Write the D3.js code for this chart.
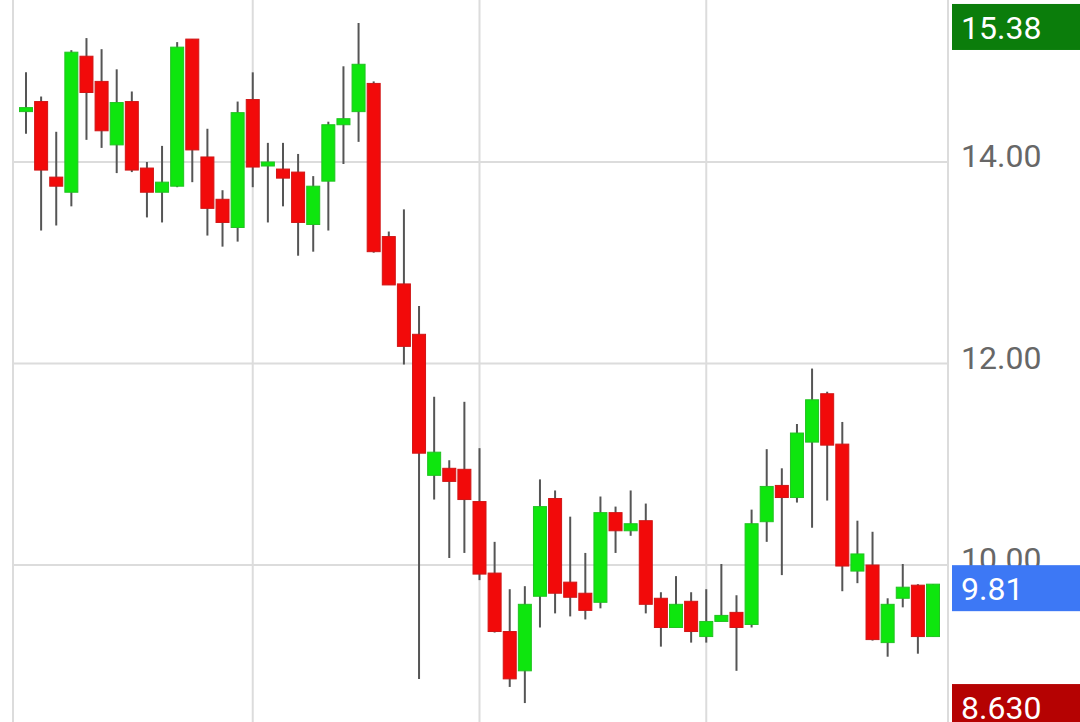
<!DOCTYPE html>
<html><head><meta charset="utf-8">
<script src="https://cdn.jsdelivr.net/npm/d3@7"></script>
<style>html,body{margin:0;padding:0;background:#fff;overflow:hidden}svg{display:block}</style>
</head><body>
<svg id="chart" width="1080" height="722"></svg>
<script>
const opens  = [14.52,14.60,13.85,13.70,15.05,14.80,14.17,14.60,13.94,13.70,13.76,15.22,14.05,13.63,13.35,14.62,13.98,13.93,13.90,13.38,13.81,14.37,14.50,14.78,13.26,12.79,12.29,10.89,10.96,10.95,10.63,9.92,9.34,8.95,9.69,10.66,9.83,9.72,9.63,10.52,10.34,10.44,9.67,9.38,9.64,9.29,9.44,9.53,9.41,10.43,10.79,10.67,11.22,11.70,11.20,9.94,10.00,9.23,9.67,9.80,9.29];
const highs  = [14.89,14.65,14.30,15.11,15.23,15.12,14.92,14.70,14.00,14.16,15.19,15.22,14.33,13.72,14.60,14.89,14.19,14.19,14.08,13.86,14.40,14.95,15.38,14.80,13.31,13.53,12.57,11.67,11.04,11.62,11.16,10.23,9.76,9.79,10.85,10.74,10.48,10.12,10.68,10.58,10.74,10.61,9.73,9.89,9.73,9.76,10.01,9.70,10.55,11.15,10.96,11.40,11.95,11.72,11.42,10.44,10.33,9.67,10.01,9.81,9.81];
const lows   = [14.28,13.32,13.37,13.56,14.22,14.14,13.89,13.90,13.45,13.40,13.75,13.80,13.27,13.16,13.21,13.75,13.40,13.56,13.07,13.11,13.32,13.98,14.20,13.10,12.78,11.99,8.87,10.65,10.07,10.12,9.85,9.33,8.79,8.63,9.38,9.52,9.49,9.46,9.57,10.12,10.29,9.52,9.19,9.38,9.23,9.23,9.44,8.95,9.38,10.23,9.90,10.62,10.37,10.64,9.74,9.82,9.25,9.09,9.58,9.12,9.29];
const closes = [14.54,13.92,13.76,15.09,14.69,14.31,14.59,13.92,13.70,13.80,15.14,14.12,13.54,13.40,14.49,13.95,14.00,13.84,13.40,13.76,14.37,14.43,14.97,13.11,12.78,12.17,11.11,11.12,10.83,10.65,9.91,9.34,8.87,9.61,10.58,9.72,9.68,9.55,10.52,10.34,10.41,9.61,9.38,9.61,9.34,9.44,9.50,9.38,10.41,10.78,10.67,11.31,11.64,11.19,9.99,10.11,9.26,9.61,9.78,9.29,9.81];
const yTicks = [10, 12, 14];
const xGridIdx = [15, 30, 45];
const markerValues = [15.38, 9.81, 8.63];
const markerLabels = ["15.38", "9.81", "8.630"];
const markerColors = ["#0b7d0b", "#3d78f5", "#b50202"];

const W = 1080, H = 722;
const plotLeft = 13, plotRight = 948;
const svg = d3.select("#chart");
const x = d3.scaleLinear().domain([0, opens.length - 1]).range([26, 933]);
const y = d3.scaleLinear().domain([8.442, 15.608]).range([H, 0]);
const font = "Roboto, 'Noto Sans', sans-serif";

const grid = svg.append("g");
grid.selectAll("line.h").data(yTicks).enter().append("line")
  .attr("x1", plotLeft).attr("x2", plotRight)
  .attr("y1", d => y(d)).attr("y2", d => y(d))
  .attr("stroke", "#dcdcdc").attr("stroke-width", 2);
grid.selectAll("line.v").data(xGridIdx).enter().append("line")
  .attr("x1", d => x(d)).attr("x2", d => x(d))
  .attr("y1", 0).attr("y2", H)
  .attr("stroke", "#dcdcdc").attr("stroke-width", 2);
grid.append("line").attr("x1", plotLeft).attr("x2", plotLeft).attr("y1", 0).attr("y2", H)
  .attr("stroke", "#dcdcdc").attr("stroke-width", 2);
grid.append("line").attr("x1", plotRight).attr("x2", plotRight).attr("y1", 0).attr("y2", H)
  .attr("stroke", "#dcdcdc").attr("stroke-width", 2);

const data = opens.map((o, i) => ({i, o, h: highs[i], l: lows[i], c: closes[i]}));
const bw = 13;
const cg = svg.append("g");
cg.selectAll("line.wick").data(data).enter().append("line")
  .attr("x1", d => x(d.i)).attr("x2", d => x(d.i))
  .attr("y1", d => y(d.h)).attr("y2", d => y(d.l))
  .attr("stroke", "#555").attr("stroke-width", 2);
cg.selectAll("rect.body").data(data).enter().append("rect")
  .attr("x", d => x(d.i) - bw / 2)
  .attr("width", bw)
  .attr("y", d => y(Math.max(d.o, d.c)))
  .attr("height", d => Math.max(4, Math.abs(y(d.o) - y(d.c))))
  .attr("fill", d => d.c >= d.o ? "#0ee60e" : "#f20a0a")
  .attr("stroke", d => d.c >= d.o ? "#22c222" : "#d01616")
  .attr("stroke-width", 1);

// right axis ticks
svg.selectAll("text.tick").data(yTicks).enter().append("text")
  .attr("x", 961).attr("y", d => y(d) + 5)
  .attr("font-family", font).attr("font-size", 32).attr("fill", "#676767")
  .text(d => d3.format(".2f")(d));

// value markers
const mk = svg.selectAll("g.mk").data(markerValues).enter().append("g");
mk.append("rect").attr("x", 952).attr("width", 128)
  .attr("y", d => y(d) - 19).attr("height", 46)
  .attr("fill", (d, i) => markerColors[i]);
mk.append("text").attr("x", 961).attr("y", d => y(d) + 16)
  .attr("font-family", font).attr("font-size", 32).attr("fill", "#fff")
  .text((d, i) => markerLabels[i]);
</script>
</body></html>
